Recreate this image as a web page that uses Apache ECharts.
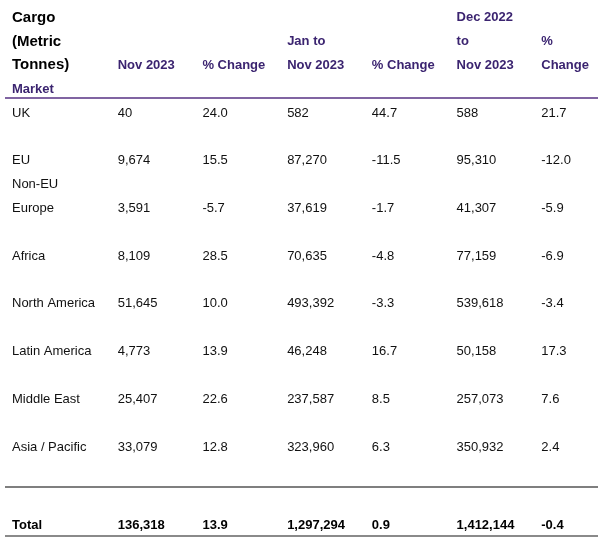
<!DOCTYPE html>
<html><head><meta charset="utf-8">
<script src="https://cdn.jsdelivr.net/npm/echarts@6/dist/echarts.min.js"></script>
<style>html,body{margin:0;padding:0;background:#fff}#c{width:602px;height:548px}</style>
</head><body><div id="c"></div>
<script>
// ---- data ----
var markets = ['UK', 'EU', 'Non-EU\nEurope', 'Africa', 'North America', 'Latin America', 'Middle East', 'Asia / Pacific'];
var nov2023 = ['40', '9,674', '3,591', '8,109', '51,645', '4,773', '25,407', '33,079'];
var novChange = ['24.0', '15.5', '-5.7', '28.5', '10.0', '13.9', '22.6', '12.8'];
var janToNov = ['582', '87,270', '37,619', '70,635', '493,392', '46,248', '237,587', '323,960'];
var janChange = ['44.7', '-11.5', '-1.7', '-4.8', '-3.3', '16.7', '8.5', '6.3'];
var decToNov = ['588', '95,310', '41,307', '77,159', '539,618', '50,158', '257,073', '350,932'];
var decChange = ['21.7', '-12.0', '-5.9', '-6.9', '-3.4', '17.3', '7.6', '2.4'];
var totalRow = ['Total', '136,318', '13.9', '1,297,294', '0.9', '1,412,144', '-0.4'];
var columnHeaders = ['Cargo\n(Metric\nTonnes)', 'Nov 2023', '% Change', 'Jan to\nNov 2023', '% Change', 'Dec 2022\nto\nNov 2023', '%\nChange'];
var columns = ['c0', 'c1', 'c2', 'c3', 'c4', 'c5', 'c6'];

// ---- build cells: [col, line, text, style] ----
var cells = [];
function addMulti(col, bottomLine, text, style) {
  var parts = text.split('\n');
  for (var i = 0; i < parts.length; i++) {
    cells.push([col, bottomLine - (parts.length - 1 - i), parts[i], style]);
  }
}
columnHeaders.forEach(function (h, c) { addMulti(c, 2, h, c === 0 ? 'title' : 'head'); });
cells.push([0, 3, 'Market', 'head']);
var cols = [nov2023, novChange, janToNov, janChange, decToNov, decChange];
markets.forEach(function (m, i) {
  var line = 4 + 2 * i;
  addMulti(0, line, m, 'body');
  cols.forEach(function (arr, c) { cells.push([c + 1, line, arr[i], 'body']); });
});
totalRow.forEach(function (t, c) { cells.push([c, 21.27, t, 'total']); });

var rules = [[3.44, '#8064a2', 2], [19.74, '#555555', 1.5], [21.79, '#8a8a8a', 2]];

var styles = {
  title: { font: 'bold 15px "Liberation Sans", Arial, sans-serif', fill: '#000' },
  head: { font: 'bold 13px "Liberation Sans", Arial, sans-serif', fill: '#3b2470' },
  body: { font: '13px "Liberation Sans", Arial, sans-serif', fill: '#111' },
  total: { font: 'bold 13px "Liberation Sans", Arial, sans-serif', fill: '#000' }
};

var chart = echarts.init(document.getElementById('c'), null, { renderer: 'canvas' });
chart.setOption({
  animation: false,
  grid: { left: 5, right: 4, top: 16, bottom: 7 },
  xAxis: { type: 'category', data: columns, show: false, boundaryGap: true },
  yAxis: { type: 'value', inverse: true, min: 0, max: 22, show: false },
  series: [
    {
      type: 'custom',
      data: cells,
      renderItem: function (params, api) {
        var col = api.value(0), line = api.value(1);
        var p = api.coord([col, line]);
        var bw = api.size([1, 0])[0];
        var left = p[0] - bw / 2 + (col === 0 ? 7 : 28);
        var st = styles[cells[params.dataIndex][3]];
        return {
          type: 'text',
          style: { x: left, y: p[1] + 1.5, text: cells[params.dataIndex][2], font: st.font, fill: st.fill, textAlign: 'left', textVerticalAlign: 'middle' }
        };
      }
    },
    {
      type: 'custom',
      data: rules.map(function (r) { return [0, r[0]]; }),
      renderItem: function (params, api) {
        var p = api.coord([0, api.value(1)]);
        var cs = params.coordSys;
        var r = rules[params.dataIndex];
        return {
          type: 'line',
          shape: { x1: cs.x, y1: p[1], x2: cs.x + cs.width, y2: p[1] },
          style: { stroke: r[1], lineWidth: r[2] }
        };
      }
    }
  ]
});
</script>
</body></html>
